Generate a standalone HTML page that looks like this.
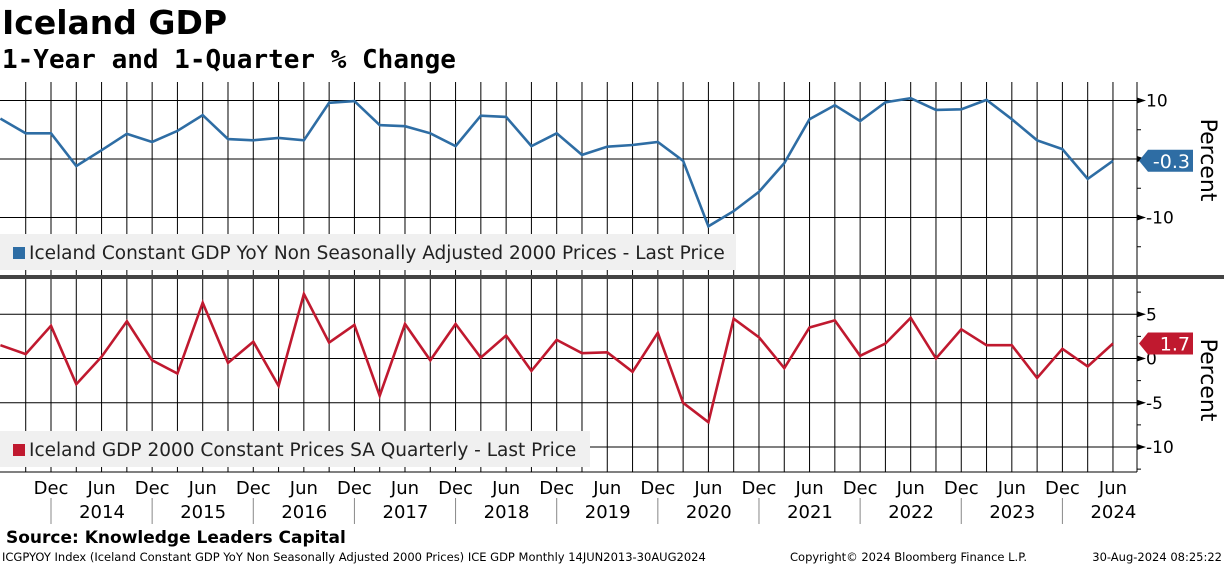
<!DOCTYPE html>
<html><head><meta charset="utf-8"><style>
body{margin:0;background:#fff;font-family:"Liberation Sans",sans-serif;}
</style></head><body>
<svg id="c" width="1224" height="566" xmlns="http://www.w3.org/2000/svg" font-family="DejaVu Sans, Liberation Sans, sans-serif">
<text x="2" y="34" font-size="33" font-weight="bold" font-family="DejaVu Sans, sans-serif">Iceland GDP</text>
<text x="2" y="68" font-size="26" font-weight="bold" font-family="DejaVu Sans Mono, monospace">1-Year and 1-Quarter % Change</text>
<g id="grid"></g>
<g id="marks"></g>
<text x="6" y="543" font-size="17" font-weight="bold">Source: Knowledge Leaders Capital</text>
<text x="2" y="561" font-size="11.5">ICGPYOY Index (Iceland Constant GDP YoY Non Seasonally Adjusted 2000 Prices) ICE GDP  Monthly 14JUN2013-30AUG2024</text>
<text x="790" y="561" font-size="11.5">Copyright© 2024 Bloomberg Finance L.P.</text>
<text x="1222" y="561" font-size="11.5" text-anchor="end">30-Aug-2024 08:25:22</text>
</svg>
<script>
const yoyValues=[6.9,4.4,4.4,-1.2,1.5,4.3,2.9,4.8,7.5,3.4,3.2,3.6,3.2,9.6,9.9,5.8,5.6,4.4,2.2,7.4,7.2,2.2,4.4,0.7,2.1,2.4,2.9,-0.3,-11.5,-8.9,-5.6,-0.7,6.8,9.2,6.5,9.7,10.4,8.4,8.5,10.1,6.8,3.2,1.7,-3.4,-0.3];
const qoqValues=[1.5,0.5,3.7,-2.9,0.2,4.2,-0.2,-1.7,6.3,-0.5,1.9,-3.1,7.3,1.8,3.8,-4.2,3.9,-0.2,3.9,0.1,2.6,-1.4,2.1,0.6,0.7,-1.5,2.9,-5.0,-7.2,4.5,2.4,-1.1,3.5,4.3,0.3,1.7,4.6,0,3.3,1.5,1.5,-2.2,1.1,-0.9,1.7];
const topTicks=[10,0,-10];
const botTicks=[5,0,-5,-10];
const monthLabels=["Dec","Jun"];
const yearLabels=["2014","2015","2016","2017","2018","2019","2020","2021","2022","2023","2024"];
const NS="http://www.w3.org/2000/svg";
const X=i=>51+(i-2)*25.285;
const yTop=v=>159-v*5.85;
const yBot=v=>358.5-v*8.85;
function mk(p,tag,a){const e=document.createElementNS(NS,tag);for(const k in a)e.setAttribute(k,a[k]);p.appendChild(e);return e;}
const g=document.getElementById('grid'),m=document.getElementById('marks');
const AX=1137;
for(let i=1;i<=44;i++){
 const l=mk(g,'line',{x1:X(i),x2:X(i),y1:82,y2:472,stroke:'#000','stroke-width':1});
 
 
}
topTicks.forEach(v=>{const y=yTop(v);
 const l=mk(g,'line',{x1:0,x2:AX,y1:y,y2:y,stroke:'#000','stroke-width':1});
 
 mk(g,'path',{d:`M${AX} ${y-3}L${AX+9} ${y}L${AX} ${y+3}Z`,fill:'#000'});
 const t=mk(g,'text',{x:AX+9,y:y+6,'font-size':17});t.textContent=v;
 
});
for(let v=15;v>=-15;v-=5){const y=yTop(v);if(y>82&&y<272)mk(g,'line',{x1:AX,x2:AX+4,y1:y,y2:y,stroke:'#000'});}
botTicks.forEach(v=>{const y=yBot(v);
 const l=mk(g,'line',{x1:0,x2:AX,y1:y,y2:y,stroke:'#000','stroke-width':1});
 
 mk(g,'path',{d:`M${AX} ${y-3}L${AX+9} ${y}L${AX} ${y+3}Z`,fill:'#000'});
 const t=mk(g,'text',{x:AX+9,y:y+6,'font-size':17});t.textContent=v;
 
});
for(let v=10;v>=-12.5;v-=2.5){const y=yBot(v);if(y>280&&y<472)mk(g,'line',{x1:AX,x2:AX+4,y1:y,y2:y,stroke:'#000'});}
mk(g,'line',{x1:AX,x2:AX,y1:82,y2:472,stroke:'#000'});
mk(g,'line',{x1:0,x2:AX,y1:472,y2:472,stroke:'#000'});
const sep=mk(g,'rect',{x:0,y:275,width:1224,height:4,fill:'#444'});

[['Percent',160],['Percent',380]].forEach(([s,cy])=>{const t=mk(g,'text',{x:0,y:0,'font-size':22,'text-anchor':'middle',transform:`translate(1201 ${cy}) rotate(90)`});t.textContent=s;
 });
for(let k=0;k<22;k++){const x=51+k*50.57;
 const t=mk(g,'text',{x:x,y:494,'font-size':18,'text-anchor':'middle'});t.textContent=monthLabels[k%2];
 
 if(k%2==0)mk(g,'line',{x1:x,x2:x,y1:498,y2:524,stroke:'#888'});
}
yearLabels.forEach((s,k)=>{const t=mk(g,'text',{x:102+k*101.14,y:518,'font-size':18,'text-anchor':'middle'});t.textContent=s;
 });
function legend(y,color,txt,w,name){
 const r=mk(m,'rect',{x:0,y:y,width:w,height:36,fill:'#f0f0f0'});
 
 mk(m,'rect',{x:13,y:y+13,width:12,height:12,fill:color});
 const t=mk(m,'text',{x:29,y:y+25,'font-size':18.5,fill:'#222'});t.textContent=txt;
}
function series(vals,yf,color,name){
 const d=vals.map((v,i)=>(i?'L':'M')+X(i).toFixed(1)+' '+yf(v).toFixed(1)).join('');
 const p=mk(m,'path',{d:d,fill:'none',stroke:color,'stroke-width':2.6,'stroke-linejoin':'miter'});
 
}
series(yoyValues,yTop,'#2e6da4','yoy-line');
series(qoqValues,yBot,'#c0192f','qoq-line');
legend(234,'#2e6da4','Iceland Constant GDP YoY Non Seasonally Adjusted 2000 Prices - Last Price',736,'legend-yoy');
legend(431,'#c0192f','Iceland GDP 2000 Constant Prices SA Quarterly - Last Price',590,'legend-qoq');
function badge(v,yf,color,name){const y=yf(v);
 const b=mk(m,'path',{d:`M1139 ${y}L1148 ${y-11}L1193 ${y-11}L1193 ${y+11}L1148 ${y+11}Z`,fill:color});
 
 const t=mk(m,'text',{x:1190,y:y+7,'font-size':19,fill:'#fff','text-anchor':'end'});t.textContent=v.toFixed(1);}
badge(yoyValues[yoyValues.length-1],yTop,'#2e6da4','last-value-badge-yoy');
badge(qoqValues[qoqValues.length-1],yBot,'#c0192f','last-value-badge-qoq');
</script>
</body></html>
